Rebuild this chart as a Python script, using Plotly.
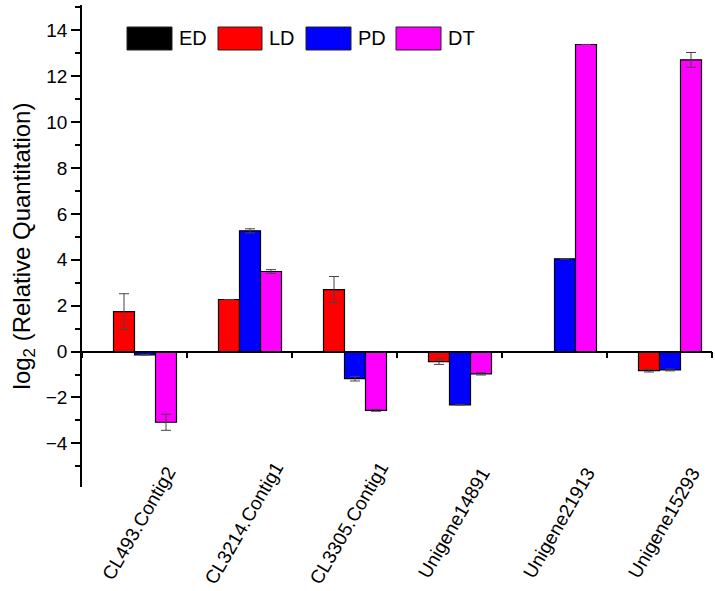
import plotly.graph_objects as go

genes = ["CL493.Contig2", "CL3214.Contig1", "CL3305.Contig1",
         "Unigene14891", "Unigene21913", "Unigene15293"]
series_names = ["ED", "LD", "PD", "DT"]
ed_vals = [0, 0, 0, 0, 0, 0]
ld_vals = [1.74, 2.27, 2.70, -0.44, 0.0, -0.83]
pd_vals = [-0.14, 5.26, -1.18, -2.32, 4.04, -0.80]
dt_vals = [-3.08, 3.49, -2.56, -0.97, 13.38, 12.71]
ed_err = [0, 0, 0, 0, 0, 0]
ld_err = [0.78, 0, 0.57, 0.12, 0, 0.06]
pd_err = [0, 0.09, 0.10, 0, 0, 0.04]
dt_err = [0.35, 0.08, 0.04, 0.05, 0, 0.32]
colors = ["#000000", "#ff0000", "#0000ff", "#ff00ff"]
y_ticks = [-4, -2, 0, 2, 4, 6, 8, 10, 12, 14]

FONT = "Liberation Sans, Arial, sans-serif"
W, H = 715, 591
ML, MR, MT, MB = 82, 3, 5, 104
PW, PH = W - ML - MR, H - MT - MB

fig = go.Figure()
for name, vals, errs, col in zip(series_names,
                                 [ed_vals, ld_vals, pd_vals, dt_vals],
                                 [ed_err, ld_err, pd_err, dt_err], colors):
    fig.add_trace(go.Bar(
        name=name, x=genes, y=vals,
        marker=dict(color=col, line=dict(color="black", width=1.2)),
        error_y=dict(type="data", array=errs, visible=True,
                     color="#444444", thickness=1, width=5),
        showlegend=False,
    ))

# custom legend (large boxes like the original)
def px2paper_x(px):
    return (px - ML) / PW

def px2paper_y(py):
    return (H - MB - py) / PH

legend_boxes = [(127, 172), (218, 262), (306, 351), (396, 441)]
for (x0, x1), name, col in zip(legend_boxes, series_names, colors):
    fig.add_shape(type="rect", xref="paper", yref="paper",
                  x0=px2paper_x(x0), x1=px2paper_x(x1),
                  y0=px2paper_y(50), y1=px2paper_y(27),
                  fillcolor=col, line=dict(color="#222222", width=1))
    fig.add_annotation(xref="paper", yref="paper",
                       x=px2paper_x(x1 + 5), y=px2paper_y(38.5),
                       text=name, showarrow=False, xanchor="left",
                       yanchor="middle",
                       font=dict(family=FONT, size=20, color="black"))

# rotated category labels, centered under each group
for g in genes:
    fig.add_annotation(x=g, xref="x", yref="paper", y=px2paper_y(523),
                       xshift=4,
                       text=g, showarrow=False, textangle=-60,
                       xanchor="center", yanchor="middle",
                       font=dict(family=FONT, size=19, color="black"))

y0_pos = (0 - (-5.9)) / (15.1 - (-5.9))

fig.update_layout(
    width=W, height=H,
    margin=dict(l=ML, r=MR, t=MT, b=MB),
    paper_bgcolor="white", plot_bgcolor="white",
    barmode="group", bargap=0.2, bargroupgap=0,
    font=dict(family=FONT, color="black"),
    xaxis=dict(type="category", range=[-0.5, 5.5], anchor="free",
               position=y0_pos, showline=True, linecolor="black",
               linewidth=1.5, ticks="outside", ticklen=6, tickwidth=1.5,
               tickcolor="black", tickson="boundaries", automargin=False,
               showticklabels=False, showgrid=False, zeroline=False),
    yaxis=dict(range=[-5.9, 15.1], tickvals=y_ticks, showline=True,
               linecolor="black", linewidth=1.5, ticks="outside",
               ticklen=9, tickwidth=1.5, tickcolor="black",
               minor=dict(dtick=1, tick0=1, ticks="outside", ticklen=5,
                          tickwidth=1.5, tickcolor="black", showgrid=False),
               showgrid=False, zeroline=False, automargin=False,
               tickfont=dict(family=FONT, size=19, color="black"),
               title=dict(text="log<sub>2</sub> (Relative Quantitation)",
                          font=dict(family=FONT, size=24, color="black"),
                          standoff=8)),
)

fig.write_html("out.html",
               config={"displayModeBar": False},
               post_script="document.body.style.margin='0';"
                           "document.body.style.overflow='hidden';")
